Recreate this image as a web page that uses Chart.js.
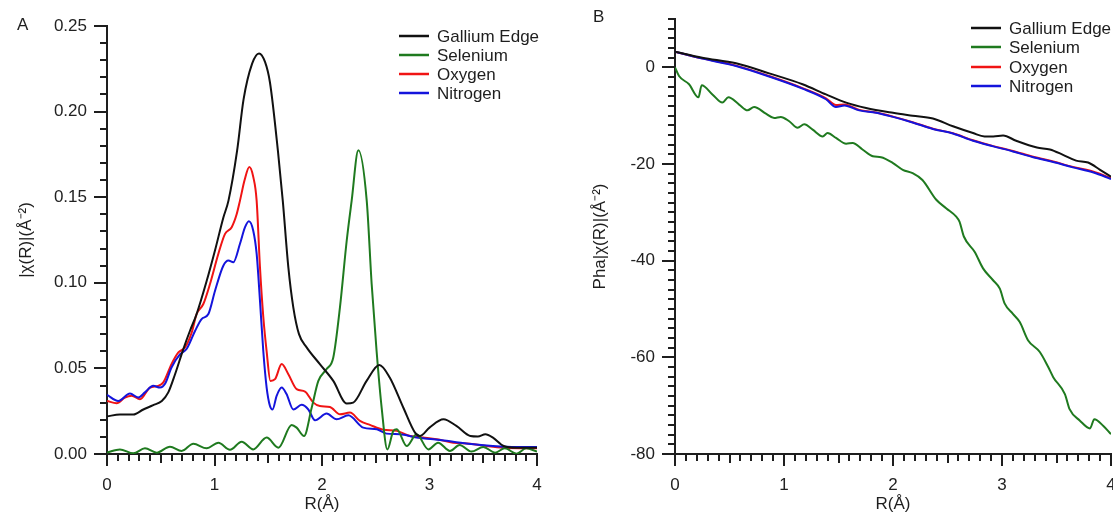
<!DOCTYPE html>
<html>
<head>
<meta charset="utf-8">
<script src="https://cdn.jsdelivr.net/npm/chart.js@4.4.1/dist/chart.umd.min.js"></script>
<style>
  html, body { margin: 0; padding: 0; background: #fff; overflow: hidden; width: 1113px; height: 517px; }
  canvas { position: absolute; top: 0; }
  #magChart { left: 0; }
  #phaseChart { left: 560px; }
</style>
</head>
<body>
<canvas id="magChart" width="560" height="517"></canvas>
<canvas id="phaseChart" width="580" height="517"></canvas>
<script>
// ---- Panel A: magnitude of the Fourier transform |chi(R)| ----
const galliumR   = [0, 0.12, 0.245, 0.338, 0.43, 0.51, 0.57, 0.633, 0.71, 0.772, 0.834, 0.927, 1.005, 1.082, 1.13, 1.21, 1.27, 1.35, 1.414, 1.47, 1.516, 1.59, 1.635, 1.687, 1.733, 1.786, 1.857, 1.98, 2.105, 2.23, 2.29, 2.415, 2.533, 2.63, 2.757, 2.865, 2.91, 3.0, 3.13, 3.25, 3.38, 3.45, 3.52, 3.59, 3.69, 3.81, 4.0];
const galliumMag = [0.022, 0.023, 0.023, 0.026, 0.0285, 0.031, 0.036, 0.0466, 0.0613, 0.072, 0.0818, 0.101, 0.119, 0.138, 0.148, 0.177, 0.207, 0.228, 0.234, 0.229, 0.217, 0.177, 0.148, 0.109, 0.0857, 0.070, 0.0623, 0.0525, 0.0427, 0.0295, 0.030, 0.0427, 0.052, 0.0447, 0.027, 0.0125, 0.0105, 0.0154, 0.0203, 0.0164, 0.0105, 0.0102, 0.0115, 0.0096, 0.0047, 0.0037, 0.0037];

const seleniumR   = [0, 0.12, 0.245, 0.353, 0.462, 0.586, 0.695, 0.803, 0.927, 1.036, 1.144, 1.253, 1.36, 1.485, 1.594, 1.718, 1.764, 1.833, 1.904, 1.966, 2.043, 2.105, 2.167, 2.23, 2.276, 2.338, 2.416, 2.462, 2.508, 2.555, 2.608, 2.664, 2.695, 2.788, 2.88, 2.99, 3.08, 3.19, 3.28, 3.39, 3.5, 3.61, 3.7, 3.81, 3.9, 4.0];
const seleniumMag = [0.0008, 0.0027, 0.0004, 0.0033, 0.0008, 0.0043, 0.0018, 0.006, 0.0033, 0.0066, 0.0025, 0.0072, 0.0027, 0.0096, 0.0037, 0.017, 0.0154, 0.0105, 0.027, 0.0427, 0.0496, 0.0564, 0.0857, 0.1247, 0.148, 0.1774, 0.148, 0.0993, 0.060, 0.027, 0.0027, 0.0135, 0.0144, 0.0047, 0.0115, 0.0027, 0.0066, 0.0018, 0.0053, 0.0014, 0.0041, 0.0008, 0.0033, 0.0002, 0.0033, 0.0014];

const oxygenR   = [0, 0.09, 0.167, 0.23, 0.307, 0.40, 0.477, 0.524, 0.60, 0.664, 0.726, 0.788, 0.834, 0.896, 0.958, 1.036, 1.098, 1.16, 1.206, 1.237, 1.28, 1.324, 1.36, 1.392, 1.423, 1.454, 1.485, 1.52, 1.563, 1.625, 1.687, 1.764, 1.842, 1.92, 1.98, 2.074, 2.167, 2.26, 2.353, 2.446, 2.57, 2.695, 2.82, 2.94, 3.067, 3.22, 3.377, 3.53, 3.687, 4.0];
const oxygenMag = [0.031, 0.0297, 0.033, 0.034, 0.032, 0.0388, 0.0398, 0.0418, 0.0525, 0.0593, 0.0623, 0.071, 0.0818, 0.0876, 0.0993, 0.117, 0.1286, 0.1325, 0.140, 0.148, 0.160, 0.1676, 0.162, 0.148, 0.109, 0.080, 0.060, 0.0427, 0.0437, 0.0525, 0.0466, 0.0379, 0.0365, 0.030, 0.028, 0.0275, 0.0232, 0.0242, 0.0193, 0.017, 0.0142, 0.0135, 0.0105, 0.0096, 0.0086, 0.0066, 0.006, 0.0047, 0.0037, 0.0033];

const nitrogenR   = [0, 0.105, 0.214, 0.29, 0.353, 0.43, 0.493, 0.54, 0.60, 0.68, 0.74, 0.82, 0.88, 0.943, 1.005, 1.082, 1.13, 1.175, 1.237, 1.284, 1.32, 1.36, 1.392, 1.423, 1.454, 1.485, 1.516, 1.54, 1.578, 1.625, 1.67, 1.733, 1.81, 1.873, 1.935, 2.043, 2.136, 2.245, 2.384, 2.51, 2.60, 2.726, 2.88, 3.036, 3.22, 3.41, 3.59, 3.81, 4.0];
const nitrogenMag = [0.0345, 0.031, 0.0353, 0.033, 0.036, 0.0398, 0.0388, 0.041, 0.0505, 0.0583, 0.0613, 0.072, 0.0788, 0.0818, 0.0954, 0.110, 0.113, 0.112, 0.1228, 0.1325, 0.136, 0.1306, 0.117, 0.0896, 0.060, 0.0388, 0.028, 0.026, 0.034, 0.0388, 0.035, 0.026, 0.0287, 0.026, 0.0197, 0.0236, 0.0203, 0.0226, 0.0154, 0.0144, 0.0119, 0.0115, 0.0096, 0.0086, 0.0072, 0.0057, 0.0047, 0.0041, 0.0041];

// ---- Panel B: phase of chi(R) ----
const galliumPhR = [0, 0.25, 0.56, 0.864, 1.17, 1.385, 1.57, 1.753, 2.0, 2.18, 2.366, 2.55, 2.734, 2.84, 2.92, 3.01, 3.13, 3.32, 3.44, 3.56, 3.68, 3.79, 3.9, 4.0];
const galliumPh  = [3.25, 2.0, 0.83, -1.25, -3.5, -5.6, -7.3, -8.4, -9.4, -10.0, -10.6, -12.2, -13.6, -14.3, -14.3, -14.1, -15.2, -16.6, -17.0, -18.1, -19.3, -19.7, -21.2, -22.6];

const seleniumPhR = [0, 0.037, 0.129, 0.215, 0.245, 0.343, 0.435, 0.49, 0.588, 0.665, 0.726, 0.834, 0.91, 0.97, 1.048, 1.125, 1.186, 1.263, 1.355, 1.4, 1.477, 1.57, 1.63, 1.72, 1.815, 1.89, 2.0, 2.09, 2.18, 2.27, 2.397, 2.49, 2.58, 2.61, 2.65, 2.75, 2.826, 2.918, 2.98, 3.025, 3.1, 3.163, 3.24, 3.347, 3.424, 3.47, 3.577, 3.62, 3.715, 3.807, 3.847, 3.93, 4.0];
const seleniumPh  = [0, -1.8, -3.5, -6.2, -3.7, -5.6, -7.3, -6.2, -7.7, -8.9, -8.2, -9.6, -10.5, -10.25, -11.15, -12.5, -11.8, -12.9, -14.3, -13.6, -14.6, -15.8, -15.65, -17.0, -18.4, -18.6, -19.8, -21.2, -21.9, -23.3, -27.4, -29.2, -30.9, -31.9, -35.0, -38.2, -41.6, -44.05, -45.8, -48.9, -51.0, -52.7, -56.5, -58.9, -62.0, -64.1, -67.6, -70.7, -73.1, -74.7, -72.8, -74.2, -75.9];

const oxygenPhR = [0, 0.25, 0.56, 0.864, 1.17, 1.385, 1.477, 1.554, 1.69, 1.845, 2.0, 2.18, 2.366, 2.55, 2.734, 2.92, 3.1, 3.286, 3.47, 3.65, 3.84, 4.0];
const oxygenPh  = [3.25, 1.85, 0.35, -1.8, -4.3, -6.4, -7.8, -7.7, -8.8, -9.35, -10.2, -11.35, -12.7, -13.65, -15.1, -16.3, -17.3, -18.5, -19.5, -20.6, -21.6, -22.9];

const nitrogenPhR = [0, 0.25, 0.56, 0.864, 1.17, 1.385, 1.477, 1.554, 1.69, 1.845, 2.0, 2.18, 2.366, 2.55, 2.734, 2.92, 3.1, 3.286, 3.47, 3.65, 3.84, 4.0];
const nitrogenPh  = [3.25, 1.8, 0.28, -1.9, -4.4, -6.6, -8.2, -7.9, -8.9, -9.4, -10.25, -11.4, -12.75, -13.7, -15.2, -16.35, -17.4, -18.6, -19.6, -20.7, -21.75, -23.1];

// ---- axis ticks ----
const rTicks     = [0, 1, 2, 3, 4];
const magTicks   = [0, 0.05, 0.10, 0.15, 0.20, 0.25];
const phaseTicks = [-80, -60, -40, -20, 0];

const seriesNames  = ['Gallium Edge', 'Selenium', 'Oxygen', 'Nitrogen'];
const seriesColors = ['#111111', '#1f7a1f', '#f01414', '#1414dc'];

const FONT = '"Liberation Sans", Arial, Helvetica, sans-serif';
const INK = '#1e1e1e';
const FS = 17;

const pts = (xs, ys) => xs.map((x, i) => ({ x, y: ys[i] }));

// Minor / major tick marks drawn outside both axes
const axisTicks = {
  id: 'axisTicks',
  afterDraw(chart, args, o) {
    const { ctx, chartArea: ca } = chart;
    const run = (scale, s, draw) => {
      const n = Math.round((s.max - s.min) / s.minor);
      for (let i = 0; i <= n; i++) {
        const v = s.min + i * s.minor;
        const on = (step) => step && Math.abs(v / step - Math.round(v / step)) < 1e-6;
        const len = on(s.major) ? s.majLen : on(s.mid) ? s.midLen : s.minLen;
        draw(Math.round(scale.getPixelForValue(v)), len);
      }
    };
    ctx.save();
    ctx.strokeStyle = INK;
    ctx.lineWidth = 2;
    ctx.beginPath();
    run(chart.scales.x, o.x, (p, len) => { ctx.moveTo(p, ca.bottom); ctx.lineTo(p, ca.bottom + len); });
    run(chart.scales.y, o.y, (p, len) => { ctx.moveTo(ca.left, p); ctx.lineTo(ca.left - len, p); });
    ctx.stroke();
    ctx.restore();
  }
};

// Legend inside the plot area plus the panel letter
const panelDecor = {
  id: 'panelDecor',
  afterDraw(chart, args, o) {
    const ctx = chart.ctx;
    ctx.save();
    ctx.font = FS + 'px ' + FONT;
    ctx.textBaseline = 'middle';
    ctx.fillStyle = INK;
    ctx.fillText(o.letter, o.letterX, o.letterY);
    chart.data.datasets.forEach((ds, i) => {
      const y = Math.round(o.top + i * o.rowGap);
      ctx.strokeStyle = ds.borderColor;
      ctx.lineWidth = 2.5;
      ctx.beginPath();
      ctx.moveTo(o.left, y);
      ctx.lineTo(o.left + o.lineLen, y);
      ctx.stroke();
      ctx.fillStyle = INK;
      ctx.fillText(ds.label, o.left + o.lineLen + 8, y + 1);
    });
    ctx.restore();
  }
};

function makeDatasets(seriesPts, orders) {
  return seriesNames.map((name, i) => ({
    label: name,
    data: seriesPts[i],
    borderColor: seriesColors[i],
    borderWidth: 2,
    pointRadius: 0,
    fill: false,
    cubicInterpolationMode: 'monotone',
    order: orders[i]
  }));
}

function xScale() {
  return {
    type: 'linear', min: 0, max: 4,
    afterFit(s) { s.height = 63; s.paddingLeft = 0; s.paddingRight = 0; },
    afterBuildTicks(s) { s.ticks = rTicks.map(v => ({ value: v })); },
    border: { display: true, color: INK, width: 2 },
    grid: { drawOnChartArea: false, drawTicks: false },
    ticks: { padding: 21, color: '#222', font: { family: FONT, size: FS }, maxRotation: 0, autoSkip: false, callback: v => String(v) },
    title: { display: true, text: 'R(Å)', color: INK, font: { family: FONT, size: FS }, padding: { top: 0, bottom: 2 } }
  };
}

function yScale(min, max, tickVals, width, title, titlePad, fmt) {
  return {
    type: 'linear', min, max,
    afterFit(s) { s.width = width; s.paddingTop = 0; s.paddingBottom = 0; },
    afterBuildTicks(s) { s.ticks = tickVals.map(v => ({ value: v })); },
    border: { display: true, color: INK, width: 2 },
    grid: { drawOnChartArea: false, drawTicks: false },
    ticks: { padding: 20, color: '#222', font: { family: FONT, size: FS }, autoSkip: false, callback: fmt },
    title: { display: true, text: title, color: INK, font: { family: FONT, size: FS }, padding: { top: titlePad, bottom: 0 } }
  };
}

const common = {
  type: 'line',
  plugins: [axisTicks, panelDecor]
};

new Chart(document.getElementById('magChart'), {
  ...common,
  data: {
    datasets: makeDatasets([
      pts(galliumR, galliumMag),
      pts(seleniumR, seleniumMag),
      pts(oxygenR, oxygenMag),
      pts(nitrogenR, nitrogenMag)
    ], [0, 1, 3, 2])
  },
  options: {
    responsive: false,
    animation: false,
    layout: { padding: { left: 0, top: 26, right: 23, bottom: 0 } },
    scales: {
      x: xScale(),
      y: yScale(0, 0.25, magTicks, 107, '|χ(R)|(Å⁻²)', 16, v => Number(v).toFixed(2))
    },
    plugins: {
      legend: { display: false },
      tooltip: { enabled: false },
      axisTicks: {
        x: { min: 0, max: 4, minor: 0.1, mid: 0.5, major: 1, majLen: 12, midLen: 9, minLen: 7 },
        y: { min: 0, max: 0.25, minor: 0.01, mid: null, major: 0.05, majLen: 13, midLen: 7, minLen: 7 }
      },
      panelDecor: { letter: 'A', letterX: 17, letterY: 25, left: 399, top: 36, rowGap: 19, lineLen: 30 }
    }
  }
});

new Chart(document.getElementById('phaseChart'), {
  ...common,
  data: {
    datasets: makeDatasets([
      pts(galliumPhR, galliumPh),
      pts(seleniumPhR, seleniumPh),
      pts(oxygenPhR, oxygenPh),
      pts(nitrogenPhR, nitrogenPh)
    ], [0, 3, 2, 1])
  },
  options: {
    responsive: false,
    animation: false,
    layout: { padding: { left: 0, top: 19, right: 29, bottom: 0 } },
    scales: {
      x: xScale(),
      y: yScale(-80, 10, phaseTicks, 115, 'Pha|χ(R)|(Å⁻²)', 30, v => String(v))
    },
    plugins: {
      legend: { display: false },
      tooltip: { enabled: false },
      axisTicks: {
        x: { min: 0, max: 4, minor: 0.1, mid: 0.5, major: 1, majLen: 12, midLen: 9, minLen: 7 },
        y: { min: -80, max: 10, minor: 2, mid: null, major: 20, majLen: 13, midLen: 7, minLen: 7 }
      },
      panelDecor: { letter: 'B', letterX: 33, letterY: 17, left: 411, top: 28, rowGap: 19.3, lineLen: 30 }
    }
  }
});
</script>
</body>
</html>
